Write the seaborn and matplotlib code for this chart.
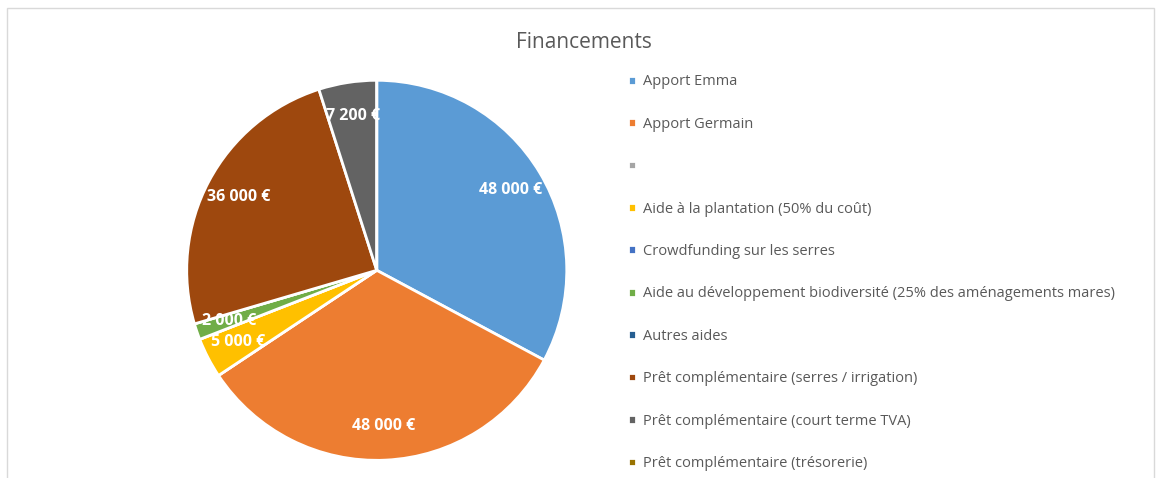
import matplotlib
matplotlib.use("Agg")
import matplotlib.pyplot as plt
import seaborn as sns
from matplotlib.patches import Rectangle

# Data
categories = [
    "Apport Emma",
    "Apport Germain",
    "",
    "Aide à la plantation (50% du coût)",
    "Crowdfunding sur les serres",
    "Aide au développement biodiversité (25% des aménagements mares)",
    "Autres aides",
    "Prêt complémentaire (serres / irrigation)",
    "Prêt complémentaire (court terme TVA)",
    "Prêt complémentaire (trésorerie)",
]
amounts = [48000, 48000, 0, 5000, 0, 2000, 0, 36000, 7200, 0]
slice_colors = ["#5B9BD5", "#ED7D31", "#A5A5A5", "#FFC000", "#4472C4",
                "#70AD47", "#255E91", "#9E480E", "#636363", "#997300"]

sns.set_theme(style="white")
plt.rcParams["font.family"] = ["Open Sans", "DejaVu Sans"]
palette = sns.color_palette(slice_colors)

fig = plt.figure(figsize=(11.61, 4.78), dpi=100)

# chart area border like the spreadsheet frame
fig.patches.append(Rectangle((0.006, -0.05), 0.988, 1.033, transform=fig.transFigure,
                             fill=False, edgecolor="#D9D9D9", linewidth=1))

ax = fig.add_axes([0.159, 0.033, 0.331, 0.803])


def euro(v):
    v = int(round(v))
    if v == 0:
        return ""  # zero slices: label hidden
    return f"{v:,} €".replace(",", " ")


total = sum(amounts)
wedges, texts, autotexts = ax.pie(
    amounts,
    colors=palette,
    startangle=90,
    counterclock=False,
    radius=1,
    autopct=lambda p: euro(p * total / 100),
    pctdistance=0.82,
    wedgeprops=dict(edgecolor="white", linewidth=2),
)
for t in autotexts:
    t.set_color("white")
    t.set_fontweight("bold")
    t.set_fontsize(11.5)
ax.set_xlim(-1.01, 1.01)
ax.set_ylim(-1.01, 1.01)
ax.set_aspect("equal")
ax.axis("off")

fig.text(0.503, 0.912, "Financements", ha="center", va="center",
         fontsize=15, color="#595959")

fig.legend(
    wedges, categories,
    loc="upper left",
    bbox_to_anchor=(0.530, 0.872),
    frameon=False,
    fontsize=10.5,
    labelcolor="#595959",
    handlelength=0.55,
    handleheight=0.55,
    handletextpad=0.45,
    labelspacing=1.88,
)

fig.savefig("out.png", dpi=100, facecolor="white")
